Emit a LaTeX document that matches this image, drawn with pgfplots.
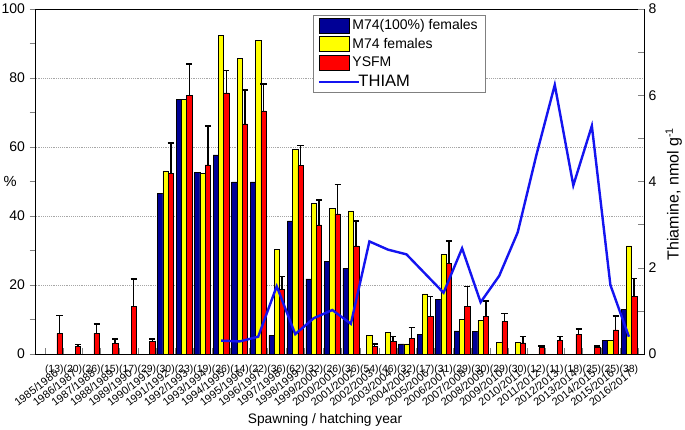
\documentclass[border=0pt]{standalone}
\usepackage{fontspec}
\setmainfont{Liberation Sans}
\usepackage{pgfplots}
\pgfplotsset{compat=1.18}

\definecolor{mfull}{RGB}{0,0,150}
\definecolor{myel}{RGB}{255,255,0}
\definecolor{myred}{RGB}{255,0,0}
\definecolor{thiam}{RGB}{20,20,240}

\pgfplotsset{
  base/.style={
    scale only axis, width=456.2pt, height=258.75pt,
    xmin=-1.0, xmax=31.81,
    /pgf/number format/assume math mode=true,
    axis line style={line width=0.6pt},
    major tick length=4.5pt, minor tick length=4.5pt,
  },
  patch/.style={legend image code/.code={\draw[##1] (0pt,-5.6pt) rectangle (23pt,5.6pt);}},
  lineimg/.style={legend image code/.code={\path[draw=none,fill=none] (0pt,-5.6pt) rectangle (23pt,5.6pt); \draw[##1,overlay] (0pt,0pt) -- (30pt,0pt);}},
}

\begin{document}
\begin{tikzpicture}
\begin{axis}[base,
  ymin=0, ymax=100, tick align=outside,
  ytick={0,20,...,100}, minor ytick={10,30,...,90}, ytick pos=left,
  yticklabel style={font=\fontsize{10.5}{12}\selectfont},
  xtick={0,...,31}, xtick pos=left, xtick style={draw=none},
  xticklabels={(13),(20),(26),(15),(17),(29),(30),(23),(19),(26),(14),(22),(36),(62),(32),(26),(36),(54),(46),(32),(17),(31),(29),(30),(29),(30),(12),(11),(18),(25),(25),(38)},
  xticklabel style={font=\fontsize{7.8}{8}\selectfont, inner xsep=0pt},
  ymajorgrids, major grid style={gray!70, densely dotted},
  ylabel={\%},
  ylabel style={rotate=-90, font=\fontsize{11}{12}\selectfont, at={(axis description cs:-0.0422,0.5)}, anchor=center},
  ybar, bar width=0.285,
  legend style={at={(0.4557,0.983)}, anchor=north west, draw=gray, line width=0.6pt,
    font=\fontsize{10.5}{12}\selectfont, inner xsep=4pt, inner ysep=1pt, row sep=1pt},
  legend cell align=left,
]
\addplot[fill=mfull, draw=black, line width=0.4pt, bar shift=-0.285, patch] coordinates {
(6,46.6) (7,73.8) (8,52.6) (9,57.7) (10,49.9) (11,49.9) (12,5.4) (13,38.6)
(14,21.8) (15,26.8) (16,24.8) (19,2.9) (20,5.7) (21,15.9) (22,6.7) (23,6.5)
(30,3.9) (31,13.0)};
\addlegendentry{M74(100\%) females}
\addplot[fill=myel, draw=black, line width=0.4pt, bar shift=0, patch] coordinates {
(6,53.1) (7,73.8) (8,52.4) (9,92.3) (10,85.7) (11,90.8) (12,30.4) (13,59.4)
(14,43.7) (15,42.2) (16,41.5) (17,5.5) (18,6.3) (19,2.9) (20,17.4) (21,28.9)
(22,10.1) (23,9.8) (24,3.3) (25,3.3) (30,3.9) (31,31.3)};
\addlegendentry{M74 females}
\addplot[fill=myred, draw=black, line width=0.4pt, bar shift=0.285, patch,
  error bars/.cd, y dir=plus, y explicit, error mark=|,
  error bar style={draw=black, line width=1.1pt},
  error mark options={draw=black, line width=1.1pt, mark size=2.3pt}] coordinates {
(0,6.0) +- (0,5.1)  (1,2.3) +- (0,0.4)  (2,6.0) +- (0,2.7)  (3,3.1) +- (0,1.2)
(4,13.9) +- (0,7.9) (5,3.6) +- (0,0.7)  (6,52.3) +- (0,8.8) (7,74.9) +- (0,9.1)
(8,54.8) +- (0,11.3) (9,75.7) +- (0,6.5) (10,66.7) +- (0,9.8) (11,70.5) +- (0,7.8)
(12,18.7) +- (0,3.7) (13,54.6) +- (0,5.8) (14,37.4) +- (0,7.3) (15,40.6) +- (0,8.5)
(16,31.3) +- (0,7.3) (17,2.2) +- (0,0.7) (18,3.6) +- (0,1.4) (19,4.6) +- (0,3.1)
(20,10.9) +- (0,5.8) (21,26.2) +- (0,6.6) (22,13.9) +- (0,5.6) (23,11.0) +- (0,4.4)
(24,9.4) +- (0,2.4) (25,3.2) +- (0,1.8) (26,1.8) +- (0,0.5) (27,3.9) +- (0,1.1)
(28,5.7) +- (0,1.5) (29,1.8) +- (0,0.5) (30,7.0) +- (0,4.0) (31,16.6) +- (0,5.3)};
\addlegendentry{YSFM}
\addlegendimage{thiam, line width=1.8pt, lineimg}
\addlegendentry{\hspace{4.5pt}\fontsize{12.4}{13}\selectfont THIAM}
\end{axis}

\begin{axis}[base,
  ymin=0, ymax=8, tick align=inside,
  axis y line*=right, axis x line*=bottom,
  ytick={0,2,...,8}, minor ytick={1,3,5,7},
  yticklabel style={font=\fontsize{10.5}{12}\selectfont},
  xtick={0,...,31}, major x tick style={draw=none},
  minor xtick={-0.5,0.5,...,31.5},
  xticklabels={1985/1986,1986/1987,1987/1988,1988/1989,1989/1990,1990/1991,1991/1992,1992/1993,1993/1994,1994/1995,1995/1996,1996/1997,1997/1998,1998/1999,1999/2000,2000/2001,2001/2002,2002/2003,2003/2004,2004/2005,2005/2006,2006/2007,2007/2008,2008/2009,2009/2010,2010/2011,2011/2012,2012/2013,2013/2014,2014/2015,2015/2016,2016/2017},
  xticklabel style={rotate=38, anchor=north east, font=\fontsize{8.2}{9}\selectfont, inner sep=1pt},
  xticklabel shift=9.5pt,
  ylabel={Thiamine, nmol g\textsuperscript{-1}},
  ylabel style={at={(axis description cs:1.049,0.464)}, anchor=center, font=\fontsize{12}{13}\selectfont},
  xlabel={Spawning / hatching year},
  xlabel style={at={(axis description cs:0.4757,-0.19)}, anchor=center, font=\fontsize{10.3}{12}\selectfont},
]
\addplot[thiam, line width=1.8pt, mark=none] coordinates {
(9,0.31) (10,0.29) (11,0.40) (12,1.57) (13,0.46) (14,0.83) (15,1.02) (16,0.70)
(17,2.61) (18,2.42) (19,2.31) (21,1.42) (22,2.45) (23,1.20) (24,1.81) (25,2.82)
(26,4.60) (27,6.24) (28,3.91) (29,5.29) (30,1.60) (31,0.40)};
\end{axis}
\pgfresetboundingbox
\useasboundingbox (-26.8pt,-57pt) rectangle (487pt,265.5pt);
\end{tikzpicture}
\end{document}
